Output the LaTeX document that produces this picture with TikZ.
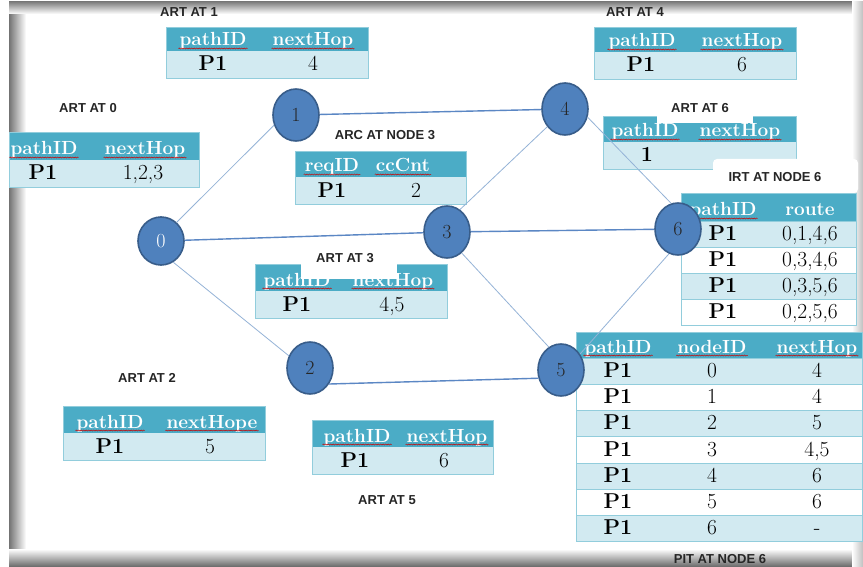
\documentclass[tikz,border=0pt]{standalone}
\usepackage{fontspec}
\newfontfamily\artfont{Liberation Sans}
\usetikzlibrary{shapes.geometric,decorations.pathmorphing}

\definecolor{headteal}{HTML}{4BACC6}
\definecolor{bodylight}{HTML}{D2EAF1}
\definecolor{cellline}{HTML}{92CDDC}
\definecolor{nodefill}{HTML}{4F81BD}
\definecolor{nodeborder}{HTML}{385D8A}
\definecolor{linklight}{HTML}{95B3D7}
\definecolor{linkdark}{HTML}{5B87C4}

\begin{document}
\begin{tikzpicture}[x=1pt,y=-1pt,
  graphnode/.style={ellipse,draw=nodeborder,line width=1.6pt,fill=nodefill,minimum width=46pt,minimum height=52pt,inner sep=0pt,text=black!85,font=\fontsize{20}{22}\selectfont},
  thinlink/.style={linklight,line width=0.8pt},
  boldlink/.style={linkdark,line width=1.4pt},
  headtxt/.style={anchor=base,text=white,inner sep=1pt,font=\fontsize{19}{21}\selectfont\bfseries},
  celltxt/.style={anchor=base,inner sep=1pt,font=\fontsize{21.5}{23}\selectfont},
  tabtitle/.style={inner sep=0pt,text=black!85,font=\artfont\bfseries\fontsize{13}{15}\selectfont},
  squig/.style={red!80!black,line width=0.5pt,decorate,decoration={snake,amplitude=0.5pt,segment length=2.5pt}}]

\useasboundingbox (0,0) rectangle (863,567);
\fill[white] (0,0) rectangle (863,567);
% frame shadow
\shade[left color=black!55,right color=white] (9,3) rectangle (26,567);
\shade[top color=black!50,bottom color=white] (9,2) rectangle (863,14);
\shade[top color=white,bottom color=black!60] (9,549) rectangle (863,567);
\shade[left color=white,right color=black!25] (852,2) rectangle (863,567);

% ART AT 0
\fill[headteal] (9,132) rectangle (199,160);
\fill[bodylight] (9,160) rectangle (199,187);
\draw[cellline] (9,132) rectangle (199,187);
\node[tabtitle] (art0) at (88,108) {ART AT 0};
\node[headtxt] (h0a) at (44,155) {pathID};
\node[headtxt] (h0b) at (145,155) {nextHop};
\node[celltxt] (c0a) at (43,180) {\textbf{P1}};
\node[celltxt] (c0b) at (143,180) {1,2,3};

% ART AT 1
\fill[headteal] (166,27) rectangle (368,51);
\fill[bodylight] (166,51) rectangle (368,78);
\draw[cellline] (166,27) rectangle (368,78);
\node[tabtitle] (art1) at (189,12) {ART AT 1};
\node[headtxt] (h1a) at (213,46) {pathID};
\node[headtxt] (h1b) at (313,46) {nextHop};
\node[celltxt] (c1a) at (213,71) {\textbf{P1}};
\node[celltxt] (c1b) at (313,71) {4};

% ARC AT NODE 3
\fill[headteal] (295,151) rectangle (466,177);
\fill[bodylight] (295,177) rectangle (466,204);
\draw[cellline] (295,151) rectangle (466,204);
\node[tabtitle] (arc3) at (385,135) {ARC AT NODE 3};
\node[headtxt] (h3a) at (332,172) {reqID};
\node[headtxt] (h3b) at (403,172) {ccCnt};
\node[celltxt] (c3a) at (332,197) {\textbf{P1}};
\node[celltxt] (c3b) at (416,197) {2};

% ART AT 3
\fill[headteal] (255,264) rectangle (447,291);
\fill[bodylight] (255,291) rectangle (447,318);
\draw[cellline] (255,264) rectangle (447,318);
\node[headtxt] (h4a) at (297,286) {pathID};
\node[headtxt] (h4b) at (393,286) {nextHop};
\node[celltxt] (c4a) at (297,311) {\textbf{P1}};
\node[celltxt] (c4b) at (392,311) {4,5};
\fill[white] (301,245) rectangle (397,279);
\node[tabtitle] (art3) at (345,258) {ART AT 3};

% ART AT 4
\fill[headteal] (594,27) rectangle (796,52);
\fill[bodylight] (594,52) rectangle (796,79);
\draw[cellline] (594,27) rectangle (796,79);
\node[tabtitle] (art4) at (635,12) {ART AT 4};
\node[headtxt] (h5a) at (642,47) {pathID};
\node[headtxt] (h5b) at (742,47) {nextHop};
\node[celltxt] (c5a) at (641,72) {\textbf{P1}};
\node[celltxt] (c5b) at (742,72) {6};

% ART AT 6
\fill[headteal] (603,116) rectangle (796,142);
\fill[bodylight] (603,142) rectangle (796,169);
\draw[cellline] (603,116) rectangle (796,169);
\node[headtxt] (h6a) at (645,137) {pathID};
\node[headtxt] (h6b) at (740,137) {nextHop};
\node[celltxt] (c6a) at (647,162) {\textbf{1}};
\fill[white] (657,96) rectangle (753,123);
\node[tabtitle] (art6) at (700,108) {ART AT 6};

% IRT AT NODE 6
\fill[white,rounded corners=4pt] (713,159) rectangle (858,193);
\node[tabtitle] (irt6) at (775,177) {IRT AT NODE 6};
\fill[headteal] (681,193) rectangle (856,221);
\draw[cellline] (681,193) rectangle (856,221);
\node[headtxt] (h7a) at (723,216) {pathID};
\node[headtxt] (h7b) at (810,216) {route};
\foreach \rt/\rfill [count=\i from 0] in {{0,1,4,6}/bodylight,{0,3,4,6}/white,{0,3,5,6}/bodylight,{0,2,5,6}/white}{
  \pgfmathsetmacro\yt{221+26*\i}
  \fill[\rfill] (681,\yt) rectangle (856,\yt+26);
  \draw[cellline] (681,\yt) rectangle (856,\yt+26);
  \node[celltxt] at (723,\yt+19.5) {\textbf{P1}};
  \node[celltxt] at (810,\yt+19.5) {\rt};
}

% PIT AT NODE 6
\fill[headteal] (576,332) rectangle (862,358);
\draw[cellline] (576,332) rectangle (862,358);
\node[headtxt] (h8a) at (618,353) {pathID};
\node[headtxt] (h8b) at (712,353) {nodeID};
\node[headtxt] (h8c) at (817,353) {nextHop};
\foreach \nid/\hop/\rfill in {0/4/bodylight,1/4/white,2/5/bodylight,3/{4,5}/white,4/6/bodylight,5/6/white,6/-/bodylight}{
  \pgfmathsetmacro\yt{358+26.2*\nid}
  \fill[\rfill] (576,\yt) rectangle (862,\yt+26.2);
  \draw[cellline] (576,\yt) rectangle (862,\yt+26.2);
  \node[celltxt] at (618,\yt+19.5) {\textbf{P1}};
  \node[celltxt] at (712,\yt+19.5) {\nid};
  \node[celltxt] at (817,\yt+19.5) {\hop};
}
\node[tabtitle] (pit6) at (720,559) {PIT AT NODE 6};

% ART AT 2
\fill[headteal] (63,406) rectangle (265,433);
\fill[bodylight] (63,433) rectangle (265,460);
\draw[cellline] (63,406) rectangle (265,460);
\node[tabtitle] (art2) at (147,378) {ART AT 2};
\node[headtxt] (h9a) at (110,428) {pathID};
\node[headtxt] (h9b) at (212,428) {nextHope};
\node[celltxt] (c9a) at (110,453) {\textbf{P1}};
\node[celltxt] (c9b) at (210,453) {5};

% ART AT 5
\fill[headteal] (312,420) rectangle (493,447);
\fill[bodylight] (312,447) rectangle (493,474);
\draw[cellline] (312,420) rectangle (493,474);
\node[tabtitle] (art5) at (387,500) {ART AT 5};
\node[headtxt] (h10a) at (357,442) {pathID};
\node[headtxt] (h10b) at (447,442) {nextHop};
\node[celltxt] (c10a) at (355,467) {\textbf{P1}};
\node[celltxt] (c10b) at (444,467) {6};

% spelling marks under header words
\foreach \w in {h0a,h0b,h1a,h1b,h3a,h3b,h4a,h4b,h5a,h5b,h6a,h6b,h7a,h8a,h8b,h8c,h9a,h9b,h10a,h10b}
  \draw[squig] ([yshift=-2.5pt]\w.base west) -- ([yshift=-2.5pt]\w.base east);

% graph
\node[graphnode,minimum height=48pt,text=white] (n0) at (161,241) {0};
\node[graphnode] (n1) at (296,115) {1};
\node[graphnode] (n2) at (310,368) {2};
\node[graphnode] (n3) at (447,232) {3};
\node[graphnode] (n4) at (565,109) {4};
\node[graphnode] (n5) at (561,370) {5};
\node[graphnode] (n6) at (678,229) {6};

\draw[thinlink] (n0.50) -- (n1.205);
\draw[boldlink] (n0) -- (n3);
\draw[thinlink] (n0.-60) -- (n2.150);
\draw[boldlink] (n1) -- (n4);
\draw[thinlink] (n3.60) -- (n4.225);
\draw[thinlink] (n4.-20) -- (n6.105);
\draw[boldlink] (n3) -- (n6);
\draw[thinlink] (n3.-55) -- (n5.118);
\draw[boldlink] (n2.-40) -- (n5.200);
\draw[thinlink] (n5.40) -- (n6.250);
\end{tikzpicture}
\end{document}
